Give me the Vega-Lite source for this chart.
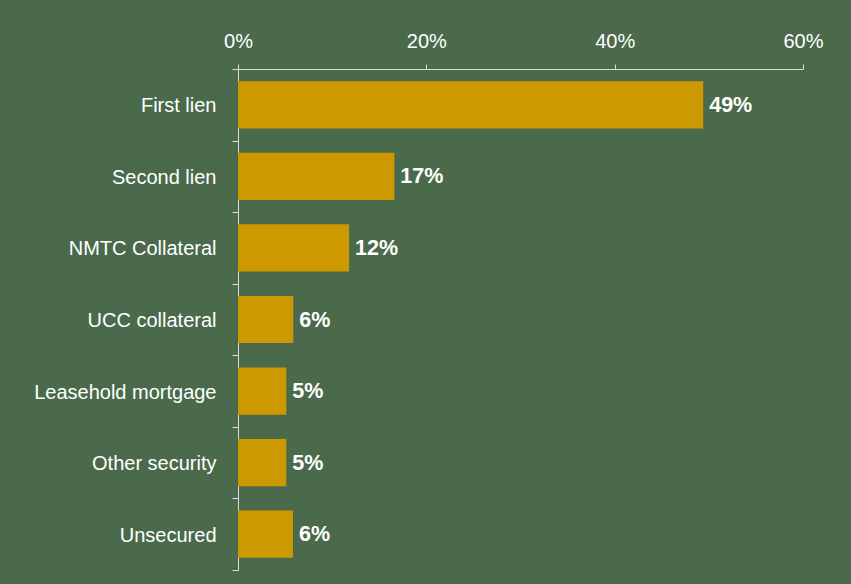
{
  "$schema": "https://vega.github.io/schema/vega-lite/v6.json",
  "width": 565,
  "height": 501,
  "autosize": "none",
  "padding": {"left": 238, "top": 69, "right": 48, "bottom": 14},
  "background": "#4a6a4b",
  "config": {"view": {"stroke": null}, "font": "Liberation Sans"},
  "data": {
    "values": [
      {"category": "First lien", "value": 49.4, "label": "49%"},
      {"category": "Second lien", "value": 16.6, "label": "17%"},
      {"category": "NMTC Collateral", "value": 11.8, "label": "12%"},
      {"category": "UCC collateral", "value": 5.87, "label": "6%"},
      {"category": "Leasehold mortgage", "value": 5.13, "label": "5%"},
      {"category": "Other security", "value": 5.13, "label": "5%"},
      {"category": "Unsecured", "value": 5.84, "label": "6%"}
    ]
  },
  "encoding": {
    "y": {
      "field": "category",
      "type": "nominal",
      "sort": null,
      "scale": {"paddingInner": 0, "paddingOuter": 0},
      "axis": {
        "title": null,
        "tickBand": "extent",
        "labelFontSize": 20,
        "labelColor": "#ffffff",
        "labelPadding": 16,
        "labelOffset": 1,
        "tickSize": 6,
        "tickColor": "#dcdcdc",
        "domainColor": "#dcdcdc",
        "labelLimit": 400
      }
    },
    "x": {
      "field": "value",
      "type": "quantitative",
      "scale": {"domain": [0, 60], "nice": false},
      "axis": {
        "orient": "top",
        "title": null,
        "values": [0, 20, 40, 60],
        "labelExpr": "datum.value + '%'",
        "grid": false,
        "labelFontSize": 20,
        "labelColor": "#ffffff",
        "labelPadding": 13,
        "tickSize": 5,
        "tickColor": "#dcdcdc",
        "domainColor": "#dcdcdc",
        "labelFlush": false
      }
    }
  },
  "layer": [
    {"mark": {"type": "bar", "color": "#cc9900", "height": {"band": 0.66}}},
    {
      "mark": {"type": "text", "align": "left", "baseline": "middle", "dx": 6, "dy": 1, "fontWeight": "bold", "fontSize": 21.5, "color": "#ffffff"},
      "encoding": {"text": {"field": "label"}}
    }
  ]
}
